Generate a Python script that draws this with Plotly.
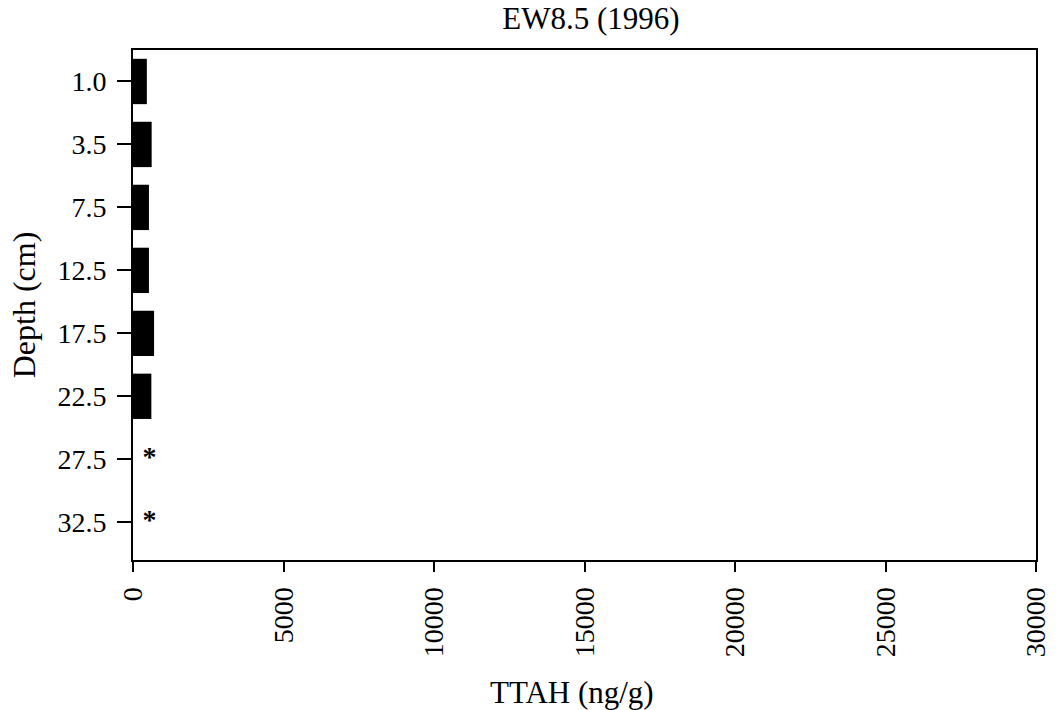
import plotly.graph_objects as go

depths = ["1.0", "3.5", "7.5", "12.5", "17.5", "22.5", "27.5", "32.5"]
ttah = [460, 620, 530, 530, 700, 610, None, None]
star_depths = ["27.5", "32.5"]
star_x = [550, 550]
x_ticks = [0, 5000, 10000, 15000, 20000, 25000, 30000]

font = "Liberation Serif"

fig = go.Figure()
fig.add_trace(go.Bar(
    y=depths, x=ttah, orientation="h",
    marker=dict(color="black", line=dict(width=0)),
    width=0.72, showlegend=False,
))
fig.add_trace(go.Scatter(
    y=star_depths, x=star_x, mode="text", text=["<b>*</b>", "<b>*</b>"],
    textfont=dict(family=font, size=28, color="black"),
    textposition="middle center", showlegend=False,
))

fig.update_layout(
    width=1063, height=710,
    margin=dict(l=133, r=25, t=50, b=150),
    paper_bgcolor="white", plot_bgcolor="white",
    font=dict(family=font, size=28, color="black"),
    title=dict(text="EW8.5 (1996)", x=0.556, xanchor="center", y=0.974, yanchor="middle",
               font=dict(family=font, size=31, color="black")),
    xaxis=dict(
        range=[0, 30000], tickvals=x_ticks, ticktext=[str(v) for v in x_ticks],
        tickangle=-90, ticks="outside", ticklen=10, tickwidth=2, tickcolor="black",
        tickfont=dict(family=font, size=28), ticklabelstandoff=4,
        showline=True, linecolor="black", linewidth=2, mirror=True,
        showgrid=False, zeroline=False,
    ),
    yaxis=dict(
        categoryorder="array", categoryarray=depths,
        range=[7.6, -0.5], ticks="outside", ticklen=14, tickwidth=2, tickcolor="black",
        tickfont=dict(family=font, size=28), ticklabelstandoff=5,
        showline=True, linecolor="black", linewidth=2, mirror=True,
        showgrid=False, zeroline=False,
        title=dict(text="Depth (cm)", font=dict(family=font, size=32), standoff=12),
    ),
    annotations=[dict(
        text="TTAH (ng/g)", xref="paper", yref="paper", x=0.486, y=-0.259,
        xanchor="center", yanchor="middle", showarrow=False,
        font=dict(family=font, size=31, color="black"),
    )],
)

fig.write_html("out.html")
